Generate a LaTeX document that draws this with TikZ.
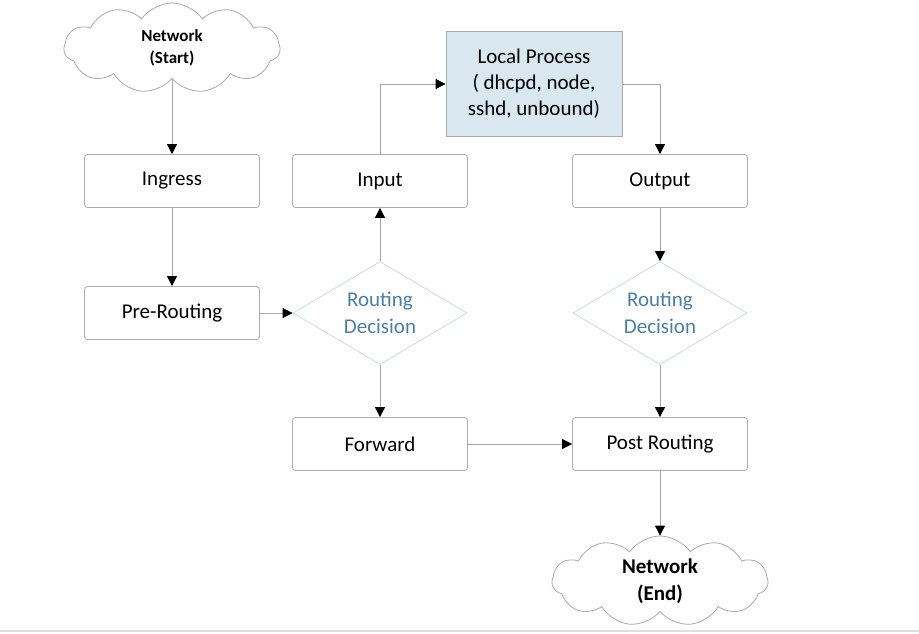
\documentclass[tikz,border=0pt]{standalone}
\usepackage{fontspec}
\setmainfont{Carlito}
\usetikzlibrary{shapes.geometric,shapes.symbols,arrows.meta}
\definecolor{linegray}{HTML}{A6A6A6}
\definecolor{boxgray}{HTML}{ABABAB}
\definecolor{diaedge}{HTML}{C5DCEA}
\definecolor{diatext}{HTML}{4A7FA7}
\definecolor{lpfill}{HTML}{D9E8F0}
\tikzset{
  procbox/.style={draw=boxgray, rounded corners=3pt, minimum width=175pt, minimum height=53pt, font=\fontsize{21}{25}\selectfont, inner sep=0pt, align=center, line width=0.8pt},
  lpbox/.style={draw=boxgray, fill=lpfill, minimum width=176pt, minimum height=105pt, font=\fontsize{21}{26}\selectfont, inner sep=0pt, align=center, line width=0.8pt},
  decision/.style={draw=diaedge, diamond, minimum width=174pt, minimum height=103pt, inner sep=0pt, aspect=1.69, text=diatext, font=\fontsize{21}{27}\selectfont, align=center, line width=0.8pt},
  netcloud/.style={draw=boxgray, cloud, cloud puffs=11, cloud puff arc=110, aspect=2.4, inner sep=0pt, align=center, line width=0.8pt},
  conn/.style={draw=linegray, line width=0.8pt, -{Triangle[length=10pt,width=10pt,color=black]}},
}
\begin{document}
\begin{tikzpicture}[x=1pt,y=-1pt]
\useasboundingbox (0,0) rectangle (919,633);
\fill[white] (0,0) rectangle (919,633);
\draw[gray!25, line width=1.5pt] (0,631) -- (919,631);

\node[netcloud, minimum width=216pt, minimum height=90pt, font=\bfseries\fontsize{17}{22}\selectfont] (start) at (172,48) {Network\\(Start)};
\node[procbox] (ing) at (172,181) {Ingress};
\node[procbox] (pre) at (172,313) {Pre-Routing};
\node[decision] (rd1) at (380,313) {Routing\\Decision};
\node[procbox] (inp) at (380,181) {Input};
\node[lpbox] (lp) at (534,84) {Local Process\\( dhcpd, node,\\sshd, unbound)};
\node[procbox] (out) at (660,181) {Output};
\node[decision] (rd2) at (660,313) {Routing\\Decision};
\node[procbox] (fwd) at (380,444) {Forward};
\node[procbox] (post) at (660,444) {Post Routing};
\node[netcloud, minimum width=216pt, minimum height=90pt, font=\bfseries\fontsize{21}{27}\selectfont] (end) at (660,581) {Network\\(End)};

\draw[conn] (start.south) -- (ing.north);
\draw[conn] (ing.south) -- (pre.north);
\draw[conn] (pre.east) -- (rd1.west);
\draw[conn] (rd1.north) -- (inp.south);
\draw[conn] (inp.north) |- (lp.west);
\draw[conn] (lp.east) -| (out.north);
\draw[conn] (out.south) -- (rd2.north);
\draw[conn] (rd2.south) -- (post.north);
\draw[conn] (rd1.south) -- (fwd.north);
\draw[conn] (fwd.east) -- (post.west);
\draw[conn] (post.south) -- (end.north);
\end{tikzpicture}
\end{document}
